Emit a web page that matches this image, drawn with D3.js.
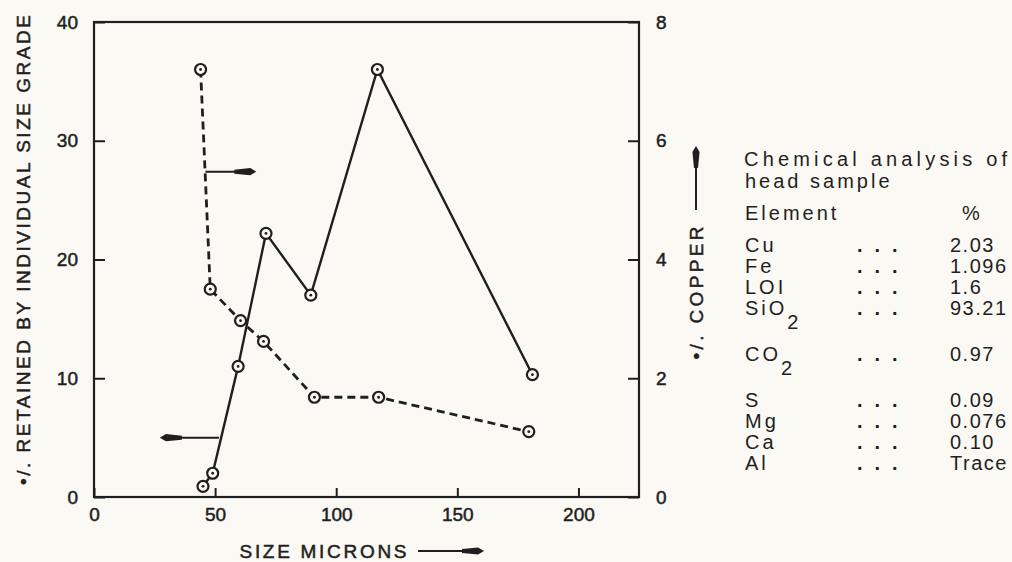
<!DOCTYPE html>
<html>
<head>
<meta charset="utf-8">
<script src="https://cdn.jsdelivr.net/npm/d3@7"></script>
<style>
body { margin: 0; background: #faf9f3; }
svg text { font-family: "Liberation Sans", Arial, sans-serif; fill: #1f1f1f; }
</style>
</head>
<body>
<script>
var width = 1012,
	height = 562;

// % retained by individual size grade (left axis, solid line)
var retainedSize = [45, 49, 59.5, 71, 89.5, 117, 181];
var retained = [0.9, 2, 11, 22.2, 17, 36, 10.3];

// % copper (right axis, dashed line)
var copperSize = [44, 48, 60.5, 70, 91, 117.5, 179.5];
var copper = [7.2, 3.5, 2.97, 2.62, 1.68, 1.68, 1.1];

var xTicks = [0, 50, 100, 150, 200];
var leftTicks = [0, 10, 20, 30, 40];
var rightTicks = [0, 2, 4, 6, 8];

// chemical analysis of head sample
var elements = ['Cu', 'Fe', 'LOI', 'SiO', 'CO', 'S', 'Mg', 'Ca', 'Al'];
var subscripts = ['', '', '', '2', '2', '', '', '', ''];
var percents = ['2.03', '1.096', '1.6', '93.21', '0.97', '0.09', '0.076', '0.10', 'Trace'];

// arrows telling which axis each curve belongs to: [size from, size to, left-axis value]
var copperArrow = [46, 67, 27.4];
var retainedArrow = [51.6, 27.2, 5];

var ink = '#1f1f1f',
	paper = '#faf9f3',
	chartFont = '"DejaVu Sans Condensed", "DejaVu Sans", sans-serif';

var svg = d3.select('body')
	.append('svg')
	.attr('width', width)
	.attr('height', height);

var x = d3.scaleLinear().domain([0, 225]).range([94, 639]),
	yL = d3.scaleLinear().domain([0, 40]).range([497, 22]),
	yR = d3.scaleLinear().domain([0, 8]).range([497, 22]);

// frame
svg.append('rect')
	.attr('x', x(0))
	.attr('y', yL(40))
	.attr('width', x(225) - x(0))
	.attr('height', yL(0) - yL(40))
	.attr('fill', 'none')
	.attr('stroke', ink)
	.attr('stroke-width', 2.2);

// the lettering in the scan is heavier than a plain font
function inked(sel) {
	sel.attr('font-family', chartFont)
		.attr('fill', ink)
		.attr('stroke', ink)
		.attr('stroke-width', 0.5);
}

function styleAxis(g) {
	g.select('.domain').remove();
	g.selectAll('line').attr('stroke', ink).attr('stroke-width', 2);
	g.selectAll('text')
		.attr('font-size', 19)
		.call(inked);
}

svg.append('g')
	.attr('transform', 'translate(' + x(0) + ',0)')
	.call(d3.axisLeft(yL).tickValues(leftTicks).tickSizeInner(-11).tickSizeOuter(0).tickPadding(16))
	.call(styleAxis);

svg.append('g')
	.attr('transform', 'translate(' + x(225) + ',0)')
	.call(d3.axisRight(yR).tickValues(rightTicks).tickSizeInner(-11).tickSizeOuter(0).tickPadding(17))
	.call(styleAxis);

svg.append('g')
	.attr('transform', 'translate(0,' + yL(0) + ')')
	.call(d3.axisBottom(x).tickValues(xTicks).tickSizeInner(-9).tickSizeOuter(0).tickPadding(11))
	.call(styleAxis);

// curves
var retainedPts = retainedSize.map(function(s, i) { return [x(s), yL(retained[i])]; });
var copperPts = copperSize.map(function(s, i) { return [x(s), yR(copper[i])]; });

var line = d3.line();

svg.append('path')
	.attr('d', line(copperPts))
	.attr('fill', 'none')
	.attr('stroke', ink)
	.attr('stroke-width', 2.8)
	.attr('stroke-dasharray', '8,5');

svg.append('path')
	.attr('d', line(retainedPts))
	.attr('fill', 'none')
	.attr('stroke', ink)
	.attr('stroke-width', 2.4);

function markers(pts) {
	var g = svg.append('g');
	g.selectAll('circle.ring')
		.data(pts)
		.enter()
		.append('circle')
		.attr('class', 'ring')
		.attr('cx', function(d) { return d[0]; })
		.attr('cy', function(d) { return d[1]; })
		.attr('r', 5.5)
		.attr('fill', paper)
		.attr('stroke', ink)
		.attr('stroke-width', 2.2);
	g.selectAll('circle.dot')
		.data(pts)
		.enter()
		.append('circle')
		.attr('class', 'dot')
		.attr('cx', function(d) { return d[0]; })
		.attr('cy', function(d) { return d[1]; })
		.attr('r', 1.4)
		.attr('fill', ink);
}
markers(copperPts);
markers(retainedPts);

// arrow from (x1,y1) with its head at (x2,y2)
function arrow(x1, y1, x2, y2) {
	var a = Math.atan2(y2 - y1, x2 - x1),
		c = Math.cos(a),
		s = Math.sin(a);
	function p(along, across) {
		return [x2 - c * along - s * across, y2 - s * along + c * across];
	}
	svg.append('line')
		.attr('x1', x1).attr('y1', y1)
		.attr('x2', p(6, 0)[0]).attr('y2', p(6, 0)[1])
		.attr('stroke', ink)
		.attr('stroke-width', 2);
	svg.append('path')
		.attr('d', d3.line()([p(0, 0), p(6, -3.6), p(22, -2), p(22, 2), p(6, 3.6)]) + 'Z')
		.attr('fill', ink);
}

arrow(x(copperArrow[0]), yL(copperArrow[2]), x(copperArrow[1]), yL(copperArrow[2]));
arrow(x(retainedArrow[0]), yL(retainedArrow[2]), x(retainedArrow[1]), yL(retainedArrow[2]));

// axis titles
svg.append('text')
	.attr('transform', 'translate(30,250) rotate(-90)')
	.attr('text-anchor', 'middle')
	.attr('font-size', 19)
	.attr('textLength', 470)
	.attr('lengthAdjust', 'spacing')
	.call(inked)
	.text('•/. RETAINED BY INDIVIDUAL SIZE GRADE');

svg.append('text')
	.attr('transform', 'translate(703,293) rotate(-90)')
	.attr('text-anchor', 'middle')
	.attr('font-size', 19)
	.attr('textLength', 133)
	.attr('lengthAdjust', 'spacing')
	.call(inked)
	.text('•/. COPPER');
arrow(696, 210, 696, 146);

svg.append('text')
	.attr('x', 323)
	.attr('y', 558)
	.attr('text-anchor', 'middle')
	.attr('font-size', 19)
	.attr('textLength', 167)
	.attr('lengthAdjust', 'spacing')
	.call(inked)
	.text('SIZE MICRONS');
arrow(418, 551, 484, 551);

// chemical analysis table
var table = svg.append('g')
	.attr('font-size', 20)
	.attr('letter-spacing', 3);

table.append('text')
	.attr('x', 744).attr('y', 166)
	.attr('textLength', 266)
	.attr('lengthAdjust', 'spacing')
	.text('Chemical analysis of');
table.append('text').attr('x', 745).attr('y', 188).text('head sample');
table.append('text').attr('x', 745).attr('y', 220).text('Element');
table.append('text').attr('x', 962).attr('y', 220).text('%');

var rowY = [],
	yy = 252;
elements.forEach(function(e, i) {
	rowY.push(yy);
	yy += subscripts[i] ? 46 : 21;
});

var rows = table.selectAll('g.row')
	.data(elements)
	.enter()
	.append('g')
	.attr('class', 'row');

rows.append('text')
	.attr('x', 745)
	.attr('y', function(d, i) { return rowY[i]; })
	.each(function(d, i) {
		var t = d3.select(this);
		t.append('tspan').text(d);
		if (subscripts[i]) {
			t.append('tspan').attr('dy', 14).text(subscripts[i]);
		}
	});

rows.append('text')
	.attr('x', 857)
	.attr('y', function(d, i) { return rowY[i]; })
	.attr('letter-spacing', 12)
	.attr('font-weight', 'bold')
	.text('...');

rows.append('text')
	.attr('x', 950)
	.attr('y', function(d, i) { return rowY[i]; })
	.attr('letter-spacing', 1.5)
	.text(function(d, i) { return percents[i]; });
</script>
</body>
</html>
